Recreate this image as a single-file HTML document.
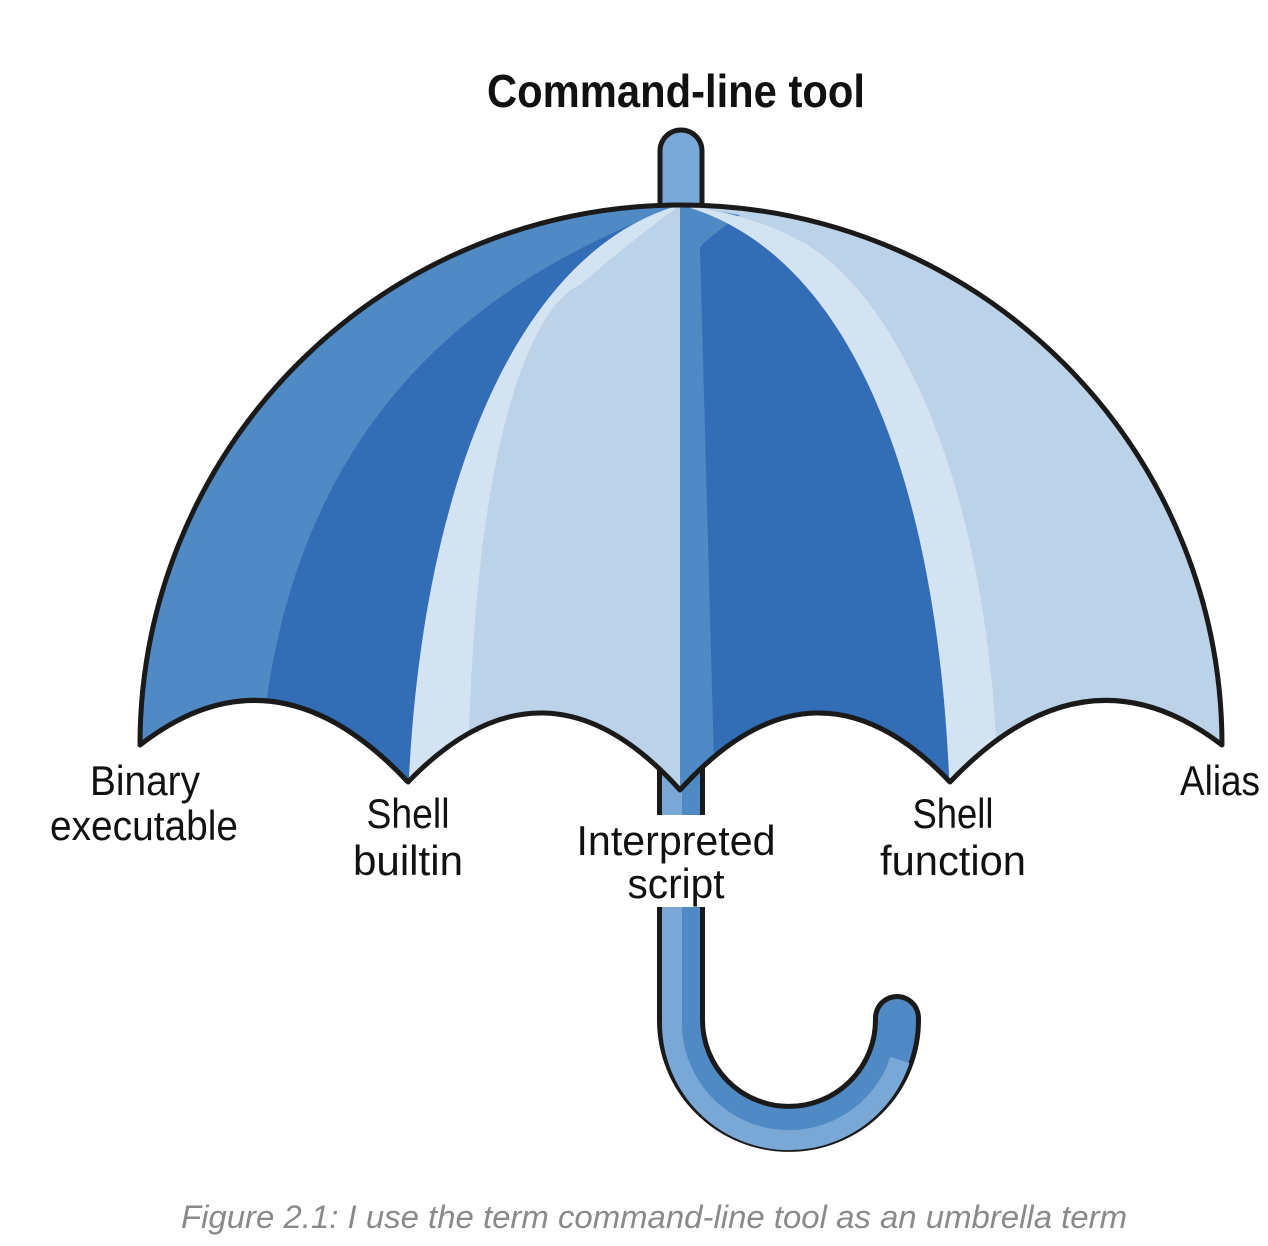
<!DOCTYPE html>
<html><head><meta charset="utf-8"><style>
html,body{margin:0;padding:0;background:#fff;}
svg{display:block;}
text{font-family:"Liberation Sans Narrow","Liberation Sans",sans-serif;fill:#111;}
</style></head><body>
<svg width="1268" height="1246" viewBox="0 0 1268 1246" xmlns="http://www.w3.org/2000/svg">
<defs>
<clipPath id="can">
<path d="M140,745 A541,540 0 0 1 1222,745 Q1085,640 950,782 Q815,640 680,790 Q545,640 408,782 Q275,640 140,745 Z"/>
</clipPath>
</defs>
<!-- top shaft -->
<rect x="660" y="130" width="42" height="110" rx="21" fill="#7aa8d6" stroke="#1a1a1a" stroke-width="5"/>
<!-- lower shaft & hook -->
<path d="M681,760 L681,1020 A108,108 0 0 0 897,1020 L897,1018" fill="none" stroke="#1a1a1a" stroke-width="48" stroke-linecap="round"/>
<path d="M681,760 L681,1020 A108,108 0 0 0 897,1020 L897,1018" fill="none" stroke="#4f8ac4" stroke-width="38" stroke-linecap="round"/>
<path d="M672,760 L672,1020 A117,117 0 0 0 900,1060" fill="none" stroke="#7aa8d6" stroke-width="20"/>
<!-- canopy -->
<g clip-path="url(#can)">
<rect x="100" y="180" width="1160" height="650" fill="#bcd2e8"/>
<path d="M680,205 C520,250 420,480 408,800 L100,800 L100,200 Z" fill="#4f8ac4"/>
<path d="M680,205 C520,250 420,480 408,800 L258,800 C270,450 450,290 680,205 Z" fill="#336db5"/>
<path d="M680,205 C520,250 420,480 408,800 L468,800 C470,420 540,300 580,285 C620,250 660,220 680,205 Z" fill="#d3e3f2"/>
<path d="M680,205 C850,250 940,480 950,800 L680,800 Z" fill="#336db5"/>
<path d="M680,205 L740,215 C720,230 705,240 700,248 L715,800 L680,800 Z" fill="#4f8ac4"/>
<path d="M680,205 C850,250 940,480 950,800 L998,800 C995,500 900,290 795,238 C760,220 720,210 680,205 Z" fill="#d3e3f2"/>
<path d="M800,238 C900,290 995,500 998,800 L1260,800 L1260,200 Z" fill="#bcd2e8"/>
</g>
<path d="M140,745 A541,540 0 0 1 1222,745 Q1085,640 950,782 Q815,640 680,790 Q545,640 408,782 Q275,640 140,745 Z" fill="none" stroke="#1a1a1a" stroke-width="5" stroke-linejoin="round"/>
<text x="676" y="107" font-size="46" font-weight="bold" text-anchor="middle" textLength="378" lengthAdjust="spacingAndGlyphs">Command-line tool</text>
<text x="145" y="795" font-size="42" text-anchor="middle" textLength="110" lengthAdjust="spacingAndGlyphs">Binary</text>
<text x="144" y="840" font-size="42" text-anchor="middle" textLength="188" lengthAdjust="spacingAndGlyphs">executable</text>
<text x="408" y="828" font-size="42" text-anchor="middle" textLength="83" lengthAdjust="spacingAndGlyphs">Shell</text>
<text x="408" y="875" font-size="42" text-anchor="middle" textLength="110" lengthAdjust="spacingAndGlyphs">builtin</text>
<rect x="580" y="815" width="192" height="92" fill="#fff"/>
<text x="676" y="855" font-size="42" text-anchor="middle" textLength="199" lengthAdjust="spacingAndGlyphs">Interpreted</text>
<text x="676" y="898" font-size="42" text-anchor="middle" textLength="97" lengthAdjust="spacingAndGlyphs">script</text>
<text x="953" y="828" font-size="42" text-anchor="middle" textLength="81" lengthAdjust="spacingAndGlyphs">Shell</text>
<text x="953" y="875" font-size="42" text-anchor="middle" textLength="146" lengthAdjust="spacingAndGlyphs">function</text>
<text x="1220" y="795" font-size="42" text-anchor="middle" textLength="80" lengthAdjust="spacingAndGlyphs">Alias</text>
<text x="654" y="1228" font-size="32" font-style="italic" text-anchor="middle" textLength="946" lengthAdjust="spacingAndGlyphs" style="fill:#8a8a8a;font-family:'Liberation Sans',sans-serif">Figure 2.1: I use the term command-line tool as an umbrella term</text>
</svg>
</body></html>
